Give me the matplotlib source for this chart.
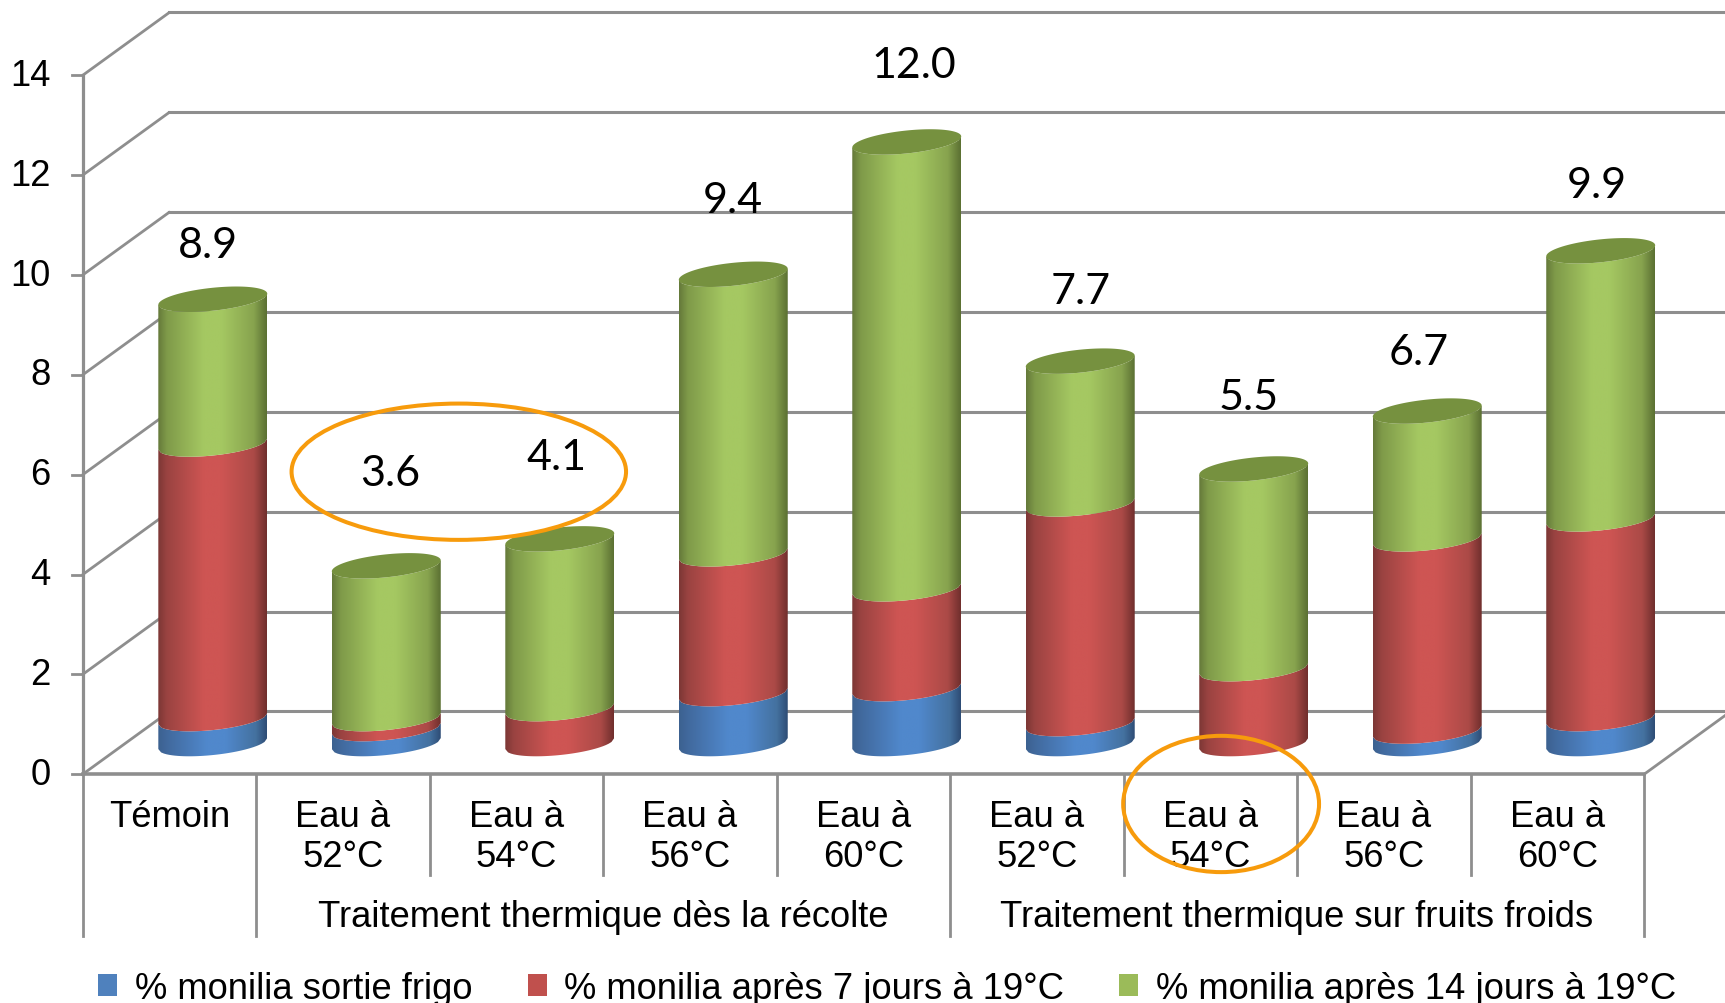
import numpy as np
import matplotlib
matplotlib.use("Agg")
import matplotlib.pyplot as plt
from matplotlib.colors import LinearSegmentedColormap
from matplotlib.patches import Ellipse, Patch, PathPatch
from matplotlib.path import Path

# values
bar_labels = ["8.9", "3.6", "4.1", "9.4", "12.0", "7.7", "5.5", "6.7", "9.9"]
sortie_frigo = [0.5, 0.3, 0.0, 1.0, 1.1, 0.4, 0.0, 0.25, 0.5]
apres_7j = [5.5, 0.2, 0.7, 2.8, 2.0, 4.4, 1.5, 3.85, 4.0]
apres_14j = [2.9, 3.06, 3.4, 5.6, 8.95, 2.86, 4.0, 2.56, 5.37]
label_x = [0.22, 1.27, 2.23, 3.25, 4.29, 5.25, 6.22, 7.20, 8.23]
label_y = [10.60, 6.04, 6.35, 11.50, 14.21, 9.67, 7.56, 8.46, 11.81]

cat_line1 = ["Témoin", "Eau à", "Eau à", "Eau à", "Eau à", "Eau à", "Eau à", "Eau à", "Eau à"]
cat_line2 = ["", "52°C", "54°C", "56°C", "60°C", "52°C", "54°C", "56°C", "60°C"]
y_ticks = [0, 2, 4, 6, 8, 10, 12, 14]
series_names = ["% monilia sortie frigo", "% monilia après 7 jours à 19°C", "% monilia après 14 jours à 19°C"]

GRID = "#8e8e8e"
ORANGE = "#f79b0c"
FS = 26.2
DEPTH_X = 0.5
DEPTH_Y = 1.26
BAR_OFF = 0.25
BAR_W = 0.314
BAR_BASE = 0.615
ARC_B = 0.23
ARC_TILT = 0.11

blues = LinearSegmentedColormap.from_list("b", [(0, "#3c6190"), (0.08, "#41699d"), (0.45, "#5088cc"), (0.62, "#5088cc"), (0.9, "#44719f"), (1, "#2e4c75")])
reds = LinearSegmentedColormap.from_list("r", [(0, "#7c3735"), (0.08, "#9a4341"), (0.42, "#ce5553"), (0.58, "#ce5553"), (0.88, "#ab4a47"), (1, "#702f2d")])
greens = LinearSegmentedColormap.from_list("g", [(0, "#64793a"), (0.08, "#7f9a49"), (0.42, "#a5c862"), (0.58, "#a5c862"), (0.88, "#87a34e"), (1, "#5b7033")])
gradient = np.linspace(0, 1, 256).reshape(1, -1)

plt.rcParams["font.family"] = ["Liberation Sans", "DejaVu Sans"]
fig = plt.figure(figsize=(17.25, 10.04), dpi=100)
ax = fig.add_axes([0, 0, 1, 1])
ax.axis("off")


def arc_points(xc, yc, n=40):
    # front half of the tilted ellipse, left to right
    t = np.linspace(-1, 1, n)
    x = xc + BAR_W * t
    y = yc + ARC_TILT * t - ARC_B * np.sqrt(1 - t ** 2)
    return x, y


def draw_segment(xc, y0, y1, cmap):
    xa, ya = arc_points(xc, y0)
    xb, yb = arc_points(xc, y1)
    xs = np.r_[xa, xb[::-1]]
    ys = np.r_[ya, yb[::-1]]
    patch = PathPatch(Path(np.c_[xs, ys]), fc="none", ec="none", transform=ax.transData)
    ax.add_patch(patch)
    img = ax.imshow(gradient, extent=[xc - BAR_W, xc + BAR_W, y0 - 0.5, y1 + 0.5],
                    aspect="auto", cmap=cmap, vmin=0, vmax=1, zorder=3, interpolation="bilinear")
    img.set_clip_path(patch)


def draw_top(xc, yc):
    t = np.linspace(0, 2 * np.pi, 100)
    x = xc + BAR_W * np.cos(t)
    y = yc + ARC_TILT * np.cos(t) + ARC_B * np.sin(t)
    ax.fill(x, y, color="#76913f", zorder=4, lw=0)


# walls and floor
for v in y_ticks:
    ax.plot([-0.5, 0], [v, v + DEPTH_Y], color=GRID, lw=2.0, zorder=1, solid_capstyle="round")
    ax.plot([0, 9], [v + DEPTH_Y, v + DEPTH_Y], color=GRID, lw=2.2, zorder=1)
    ax.plot([-0.56, -0.5], [v, v], color=GRID, lw=2.0, zorder=1)
    ax.text(-0.685, v, str(v), ha="right", va="center", fontsize=FS, color="black")
ax.plot([-0.5, -0.5], [0, 14], color=GRID, lw=2.3, zorder=1)
ax.plot([-0.5, 8.5], [0, 0], color=GRID, lw=2.6, zorder=2)
ax.plot([8.5, 9.0], [0, DEPTH_Y], color=GRID, lw=2.0, zorder=2)

# category axis
for i in range(10):
    long_tick = i in (0, 1, 5, 9)
    ax.plot([i - 0.5, i - 0.5], [0, -3.23 if long_tick else -2.02], color=GRID, lw=2.0, zorder=2)
for i, (a, b) in enumerate(zip(cat_line1, cat_line2)):
    ax.text(i, -0.84, a, ha="center", va="center", fontsize=FS)
    if b:
        ax.text(i, -1.64, b, ha="center", va="center", fontsize=FS)
ax.text(2.5, -2.84, "Traitement thermique dès la récolte", ha="center", va="center", fontsize=FS)
ax.text(6.5, -2.84, "Traitement thermique sur fruits froids", ha="center", va="center", fontsize=FS)

# stacked cylinders
for i in range(len(bar_labels)):
    xc = i + BAR_OFF
    bottom = BAR_BASE
    for vals, cmap in ((sortie_frigo, blues), (apres_7j, reds), (apres_14j, greens)):
        if vals[i] > 0:
            draw_segment(xc, bottom, bottom + vals[i], cmap)
            bottom += vals[i]
    draw_top(xc, bottom)
    ax.text(label_x[i], label_y[i], bar_labels[i], ha="center", va="center",
            fontsize=31, family=["Lato", "DejaVu Sans"], zorder=6)

# hand drawn circles from the original slide
ax.add_patch(Ellipse((1.668, 6.06), 1.928, 2.73, fc="none", ec=ORANGE, lw=2.9, zorder=7))
ax.add_patch(Ellipse((6.062, -0.595), 1.129, 2.73, fc="none", ec=ORANGE, lw=2.9, zorder=7))

ax.set_xlim((0 - 154) / 157.7, (1568 - 154) / 157.7)
ax.set_ylim((705 - 913) / 45.4, 705 / 45.4)

handles = [Patch(fc="#4f81bd"), Patch(fc="#c0504d"), Patch(fc="#9bbb59")]
ax.legend(handles, series_names, ncol=3, frameon=False, loc="center",
          bbox_to_anchor=(0.5144, 0.0145), fontsize=FS, handlelength=0.52, handleheight=0.52,
          handletextpad=0.49, columnspacing=1.51, borderpad=0, borderaxespad=0)

fig.savefig("out.png", dpi=100)
